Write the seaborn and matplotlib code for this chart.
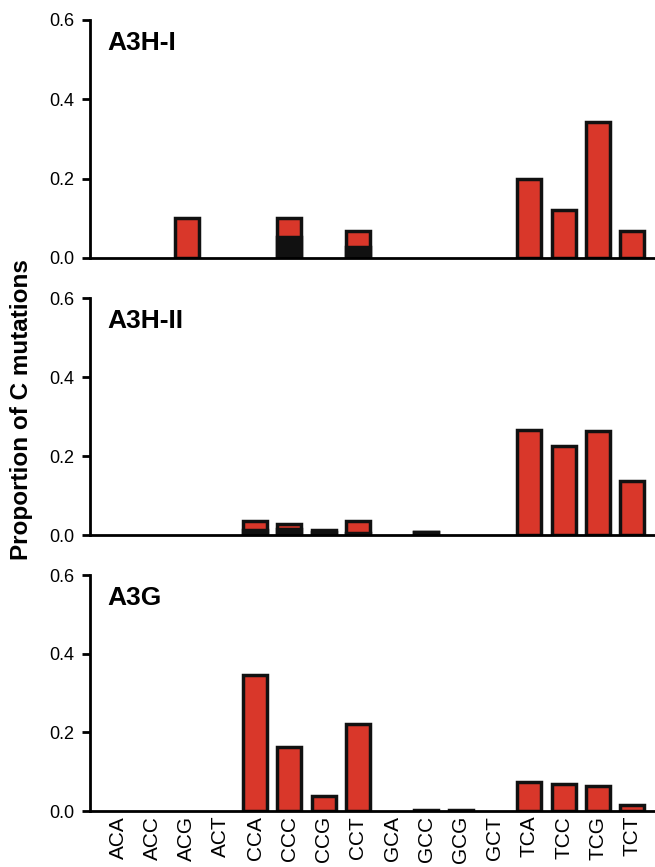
"""Proportion of C mutations by trinucleotide context, three panels."""
import matplotlib
matplotlib.use("Agg")
import matplotlib.pyplot as plt
import numpy as np
import pandas as pd
import seaborn as sns

sns.set_style("white")
matplotlib.rcParams["font.family"] = ["Liberation Sans", "DejaVu Sans"]
for key in ["text.color", "axes.labelcolor", "xtick.color", "ytick.color"]:
    matplotlib.rcParams[key] = "black"

contexts = ["ACA", "ACC", "ACG", "ACT", "CCA", "CCC", "CCG", "CCT",
            "GCA", "GCC", "GCG", "GCT", "TCA", "TCC", "TCG", "TCT"]

panels = ["A3H-I", "A3H-II", "A3G"]

# total proportion per context
a3h1_total = [0, 0, 0.10, 0, 0, 0.10, 0, 0.067, 0, 0, 0, 0, 0.20, 0.122, 0.342, 0.067]
a3h2_total = [0, 0, 0, 0, 0.035, 0.027, 0.013, 0.035, 0, 0.008, 0, 0, 0.266, 0.226, 0.263, 0.136]
a3g_total = [0, 0, 0, 0, 0.347, 0.162, 0.038, 0.222, 0, 0.002, 0.002, 0, 0.074, 0.068, 0.064, 0.016]

# black (lower) part of the stacked bars
a3h1_black = [0, 0, 0, 0, 0, 0.052, 0, 0.028, 0, 0, 0, 0, 0, 0, 0, 0]
a3h2_black = [0, 0, 0, 0, 0.012, 0.014, 0.008, 0.005, 0, 0.008, 0, 0, 0, 0, 0, 0]
a3g_black = [0] * 16

totals = [a3h1_total, a3h2_total, a3g_total]
blacks = [a3h1_black, a3h2_black, a3g_black]

RED = "#d9372a"
EDGE = "#111111"

fig = plt.figure(figsize=(6.55, 8.67), dpi=100)
W, H = 655, 867
boxes = [(20, 258), (298, 535), (575, 811)]  # pixel top / bottom of each axes

for i, (name, tot, blk) in enumerate(zip(panels, totals, blacks)):
    top, bottom = boxes[i]
    ax = fig.add_axes([90 / W, 1 - bottom / H, (W - 90) / W, (bottom - top) / H])
    # zeros -> NaN so empty contexts draw no edge line
    df = pd.DataFrame({"context": contexts,
                       "total": np.where(np.array(tot) > 0, tot, np.nan),
                       "black": np.where(np.array(blk) > 0, blk, np.nan)})
    sns.barplot(data=df, x="context", y="total", order=contexts, color=RED,
                saturation=1, width=0.7, edgecolor=EDGE, linewidth=2.5, ax=ax)
    sns.barplot(data=df, x="context", y="black", order=contexts, color=EDGE,
                saturation=1, width=0.7, edgecolor=EDGE, linewidth=2.5, ax=ax)
    ax.set_xlim(-0.82, 15.67)
    ax.set_ylim(0, 0.6)
    ax.set_yticks([0, 0.2, 0.4, 0.6])
    ax.set_yticklabels(["0.0", "0.2", "0.4", "0.6"], fontsize=13)
    ax.set_xlabel("")
    ax.set_ylabel("")
    sns.despine(ax=ax)
    for side in ["left", "bottom"]:
        ax.spines[side].set_linewidth(2)
        ax.spines[side].set_color("black")
    ax.tick_params(axis="y", direction="out", length=6, width=2, left=True, pad=5)
    ax.tick_params(axis="x", length=0)
    if i < 2:
        ax.set_xticklabels([])
    else:
        ax.set_xticklabels(contexts, rotation=90, fontsize=15)
    ax.text(0.03, 0.955, name, transform=ax.transAxes, fontsize=19,
            fontweight="bold", va="top", ha="left")

fig.text(22 / W, 1 - 410 / H, "Proportion of C mutations", rotation=90,
         fontsize=17.5, fontweight="bold", ha="center", va="center")

fig.savefig("out.png", dpi=100)
